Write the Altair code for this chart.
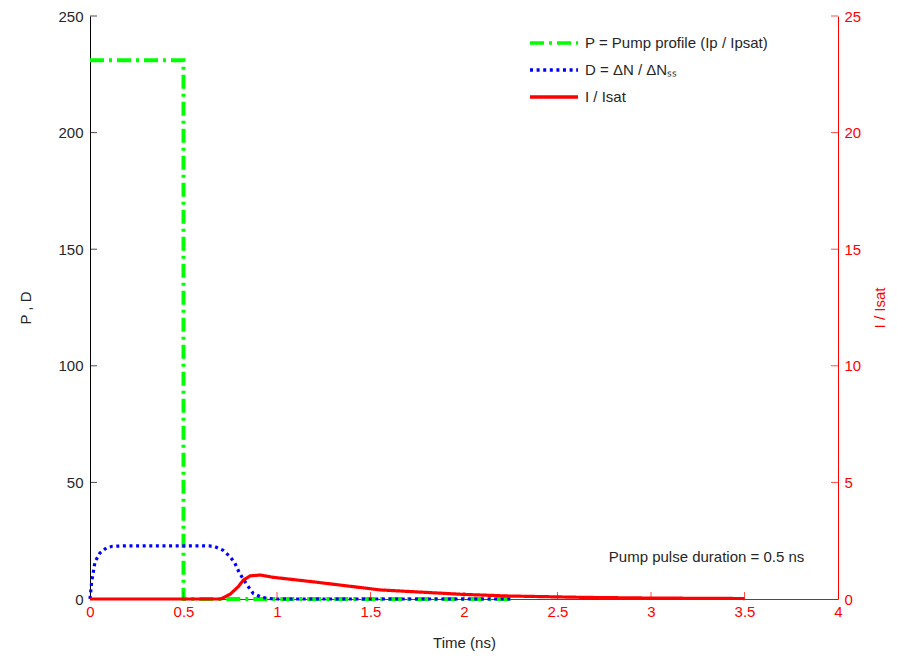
import altair as alt
import pandas as pd

# ---------------- data ----------------
P_t = [0.0, 0.5, 0.5, 2.25]
P_v = [231.0, 231.0, 0.0, 0.0]

D_t = [0.0, 0.009, 0.027, 0.053, 0.089, 0.12, 0.2, 0.4, 0.6, 0.66, 0.71, 0.75,
       0.775, 0.80, 0.84, 0.873, 0.918, 0.96, 1.0, 1.5, 2.0, 2.25]
D_v = [0.0, 7.4, 16.0, 19.7, 22.0, 22.6, 22.8, 22.8, 22.8, 22.7, 21.0, 18.1,
       15.3, 11.0, 6.0, 2.4, 0.7, 0.2, 0.0, 0.0, 0.0, 0.0]

I_t = [0.0, 0.70, 0.75, 0.793, 0.82, 0.856, 0.909, 0.98, 1.19, 1.48, 1.55,
       1.99, 2.23, 2.64, 3.0, 3.5]
I_v = [0.0, 0.0, 0.21, 0.53, 0.81, 0.99, 1.03, 0.93, 0.74, 0.46, 0.39,
       0.20, 0.13, 0.07, 0.04, 0.02]

series_names = ["P = Pump profile (Ip / Ipsat)", "D =  ΔN / ΔNₛₛ", "I / Isat"]
series_colors = ["#00FF00", "#0000FF", "#FF0000"]
series_dashes = [[14, 5, 3, 5], [3, 3.6], [1, 0]]

x_ticks = [0, 0.5, 1, 1.5, 2, 2.5, 3, 3.5, 4]
left_ticks = [0, 50, 100, 150, 200, 250]
right_ticks = [0, 5, 10, 15, 20, 25]

note_text = ["Pump pulse duration = 0.5 ns"]
note_t = [3.82]
note_v = [18.2]

# ---------------- tables ----------------
def make(ts, vs, name):
    return pd.DataFrame({"t": ts, "v": vs, "series": name, "idx": range(len(ts))})

dfP = make(P_t, P_v, series_names[0])
dfD = make(D_t, D_v, series_names[1])
dfI = make(I_t, I_v, series_names[2])

FONT = "Liberation Sans"
RED = "#FF0000"
TXT = "#262626"
FS = 15

x_enc = alt.X("t:Q", scale=alt.Scale(domain=[0, 4], nice=False),
              axis=alt.Axis(values=x_ticks, format="~g", title="Time (ns)",
                            domainColor=RED, labelColor=RED, ticks=False,
                            labelPadding=5, titlePadding=16, titleColor=TXT,
                            labelFontSize=FS, titleFontSize=FS, labelFont=FONT,
                            titleFont=FONT, titleFontWeight="normal", grid=False,
                            labelFlush=False))

color_enc = alt.Color("series:N",
                      scale=alt.Scale(domain=series_names, range=series_colors),
                      legend=alt.Legend(title=None, orient="none", legendX=462,
                                        legendY=13, symbolType="M-3,0H1",
                                        symbolSize=576, symbolStrokeWidth=3.5,
                                        labelFont=FONT, labelFontSize=FS,
                                        labelColor=TXT, labelLimit=400,
                                        rowPadding=5, labelOffset=5))
dash_enc = alt.StrokeDash("series:N",
                          scale=alt.Scale(domain=series_names, range=series_dashes),
                          legend=None)

yL_scale = alt.Scale(domain=[0, 250], nice=False)
yR_scale = alt.Scale(domain=[0, 25], nice=False)

yL_axis = alt.Axis(values=left_ticks, title="P , D", ticks=False, grid=False,
                   domainColor="black", labelColor=TXT, titleColor=TXT,
                   labelFont=FONT, titleFont=FONT, labelFontSize=FS,
                   titleFontSize=FS, titleFontWeight="normal", labelPadding=7,
                   titlePadding=24, titleAngle=270)
yR_axis = alt.Axis(values=right_ticks, title="I / Isat", ticks=False, grid=False,
                   orient="right", domainColor=RED, labelColor=RED,
                   titleColor=RED, labelFont=FONT, titleFont=FONT,
                   labelFontSize=FS, titleFontSize=FS, titleFontWeight="normal",
                   labelPadding=6, titlePadding=27, titleAngle=270)

lineP = alt.Chart(dfP).mark_line(strokeWidth=4).encode(
    x=x_enc, y=alt.Y("v:Q", scale=yL_scale, axis=yL_axis),
    color=color_enc, strokeDash=dash_enc, order="idx:Q")
lineD = alt.Chart(dfD).mark_line(strokeWidth=3.2).encode(
    x=x_enc, y=alt.Y("v:Q", scale=yL_scale, axis=yL_axis),
    color=color_enc, strokeDash=dash_enc, order="idx:Q")
lineI = alt.Chart(dfI).mark_line(strokeWidth=3.2).encode(
    x=x_enc, y=alt.Y("v:Q", scale=yR_scale, axis=yR_axis),
    color=color_enc, strokeDash=dash_enc, order="idx:Q")

# inward tick marks
dfXt = pd.DataFrame({"t": x_ticks[1:-1], "v": [0] * (len(x_ticks) - 2)})
xt = alt.Chart(dfXt).mark_tick(orient="vertical", size=7, thickness=1,
                               yOffset=-3.5, color=RED).encode(
    x=x_enc, y=alt.Y("v:Q", scale=yL_scale, axis=yL_axis))
dfLt = pd.DataFrame({"t": [0] * (len(left_ticks) - 1), "v": left_ticks[1:]})
lt = alt.Chart(dfLt).mark_tick(orient="horizontal", size=7, thickness=1,
                               xOffset=3.5, color="black").encode(
    x=x_enc, y=alt.Y("v:Q", scale=yL_scale, axis=yL_axis))
dfRt = pd.DataFrame({"t": [4] * (len(right_ticks) - 1), "v": right_ticks[1:]})
rt = alt.Chart(dfRt).mark_tick(orient="horizontal", size=7, thickness=1,
                               xOffset=-3.5, color=RED).encode(
    x=x_enc, y=alt.Y("v:Q", scale=yR_scale, axis=yR_axis))

dfN = pd.DataFrame({"t": note_t, "v": note_v, "txt": note_text})
note = alt.Chart(dfN).mark_text(align="right", baseline="middle", font=FONT,
                                fontSize=FS, color=TXT).encode(
    x=x_enc, y=alt.Y("v:Q", scale=yL_scale, axis=yL_axis), text="txt:N")

left = alt.layer(lineP, lineD, lt, xt, note)
right = alt.layer(lineI, rt)

chart = alt.layer(left, right).resolve_scale(y="independent").properties(
    width=748, height=583,
    autosize=alt.AutoSizeParams(type="none"),
    padding={"left": 82, "top": 8, "right": 51, "bottom": 52},
    background="white"
).configure_view(stroke=None)

chart.save("out.html", embed_options={"renderer": "svg", "actions": False})
